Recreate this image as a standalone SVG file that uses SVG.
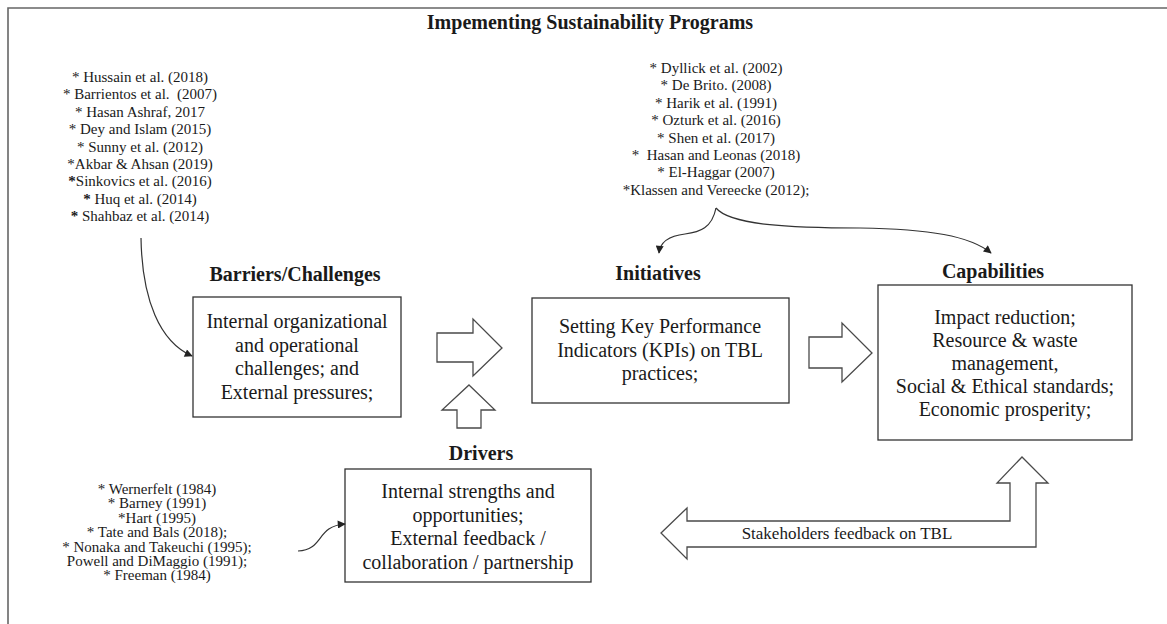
<svg xmlns="http://www.w3.org/2000/svg" width="1167" height="624" viewBox="0 0 1167 624">
<defs>
<style>
text{font-family:"Liberation Serif","Times New Roman",serif;fill:#1a1a1a;text-anchor:middle}
.title{font-size:20px;font-weight:bold}
.head{font-size:20px;font-weight:bold}
.body{font-size:20px}
.cite{font-size:15px}
.cite2{font-size:15px}
.lbl{font-size:17px}
.box{fill:#fff;stroke:#333;stroke-width:1.3}
.blk{fill:#fff;stroke:#4a4a4a;stroke-width:1.3;stroke-linejoin:miter}
.curve{fill:none;stroke:#333;stroke-width:1.2}
.frame{fill:none;stroke:#666;stroke-width:1.6}
.pre{white-space:pre}
</style>
<marker id="ah" viewBox="0 0 10 10" refX="9" refY="5" markerWidth="9" markerHeight="8" markerUnits="userSpaceOnUse" orient="auto">
<path d="M0,0 L10,5 L0,10 Z" fill="#222"/>
</marker>
</defs>
<rect width="1167" height="624" fill="#fff"/>
<path class="frame" d="M8,624 L8,8 L1167,8"/>
<text class="title" x="590" y="29">Impementing Sustainability Programs</text>

<g id="cites-barriers">
<text class="cite" x="140" y="82">* Hussain et al. (2018)</text>
<text class="cite pre" x="140" y="99.4">* Barrientos et al.  (2007)</text>
<text class="cite" x="140" y="116.8">* Hasan Ashraf, 2017</text>
<text class="cite" x="140" y="134.2">* Dey and Islam (2015)</text>
<text class="cite" x="140" y="151.6">* Sunny et al. (2012)</text>
<text class="cite" x="140" y="169">*Akbar &amp; Ahsan (2019)</text>
<text class="cite" x="140" y="186.4"><tspan font-weight="bold">*</tspan>Sinkovics et al. (2016)</text>
<text class="cite" x="140" y="203.8"><tspan font-weight="bold">*</tspan> Huq et al. (2014)</text>
<text class="cite" x="140" y="221.2"><tspan font-weight="bold">*</tspan> Shahbaz et al. (2014)</text>
</g>

<g id="cites-initiatives">
<text class="cite" x="716" y="73">* Dyllick et al. (2002)</text>
<text class="cite" x="716" y="90.4">* De Brito. (2008)</text>
<text class="cite" x="716" y="107.8">* Harik et al. (1991)</text>
<text class="cite" x="716" y="125.2">* Ozturk et al. (2016)</text>
<text class="cite" x="716" y="142.6">* Shen et al. (2017)</text>
<text class="cite pre" x="716" y="160">*  Hasan and Leonas (2018)</text>
<text class="cite" x="716" y="177.4">* El-Haggar (2007)</text>
<text class="cite" x="716" y="194.8">*Klassen and Vereecke (2012);</text>
</g>

<g id="cites-drivers">
<text class="cite2" x="157" y="494">* Wernerfelt (1984)</text>
<text class="cite2" x="157" y="508.4">* Barney (1991)</text>
<text class="cite2" x="157" y="522.8">*Hart (1995)</text>
<text class="cite2" x="157" y="537.2">* Tate and Bals (2018);</text>
<text class="cite2" x="157" y="551.6">* Nonaka and Takeuchi (1995);</text>
<text class="cite2" x="157" y="566">Powell and DiMaggio (1991);</text>
<text class="cite2" x="157" y="580.4">* Freeman (1984)</text>
</g>

<g id="barriers">
<text class="head" x="295" y="281">Barriers/Challenges</text>
<rect class="box" x="193" y="297" width="208" height="120"/>
<text class="body" x="297" y="328">Internal organizational</text>
<text class="body" x="297" y="351.5">and operational</text>
<text class="body" x="297" y="375">challenges; and</text>
<text class="body" x="297" y="398.5">External pressures;</text>
</g>

<g id="initiatives">
<text class="head" x="658" y="280">Initiatives</text>
<rect class="box" x="532" y="298" width="257" height="105"/>
<text class="body" x="660" y="333">Setting Key Performance</text>
<text class="body" x="660" y="356.5">Indicators (KPIs) on TBL</text>
<text class="body" x="660" y="380">practices;</text>
</g>

<g id="capabilities">
<text class="head" x="993" y="278">Capabilities</text>
<rect class="box" x="878" y="285" width="254" height="155"/>
<text class="body" x="1005" y="323.5">Impact reduction;</text>
<text class="body" x="1005" y="346.5">Resource &amp; waste</text>
<text class="body" x="1005" y="369.5">management,</text>
<text class="body" x="1005" y="392.5">Social &amp; Ethical standards;</text>
<text class="body" x="1005" y="415.5">Economic prosperity;</text>
</g>

<g id="drivers">
<text class="head" x="481" y="460">Drivers</text>
<rect class="box" x="345" y="469" width="246" height="113"/>
<text class="body" x="468" y="498">Internal strengths and</text>
<text class="body" x="468" y="521.5">opportunities;</text>
<text class="body" x="468" y="545">External feedback /</text>
<text class="body" x="468" y="568.5">collaboration / partnership</text>
</g>

<g id="connectors">
<path class="curve" d="M141,238 C142,300 160,342 192,356" marker-end="url(#ah)"/>
<path class="curve" d="M716,208 C712,228 700,232 685,234 C668,236 660,243 659,253" marker-end="url(#ah)"/>
<path class="curve" d="M716,208 C730,225 790,228 860,228 C930,229 970,236 991,253" marker-end="url(#ah)"/>
<path class="curve" d="M298,551 C324,550 316,526 345,524" marker-end="url(#ah)"/>
<path class="blk" d="M437,333 L473,333 L473,319 L502,348 L473,376 L473,362 L437,362 Z"/>
<path class="blk" d="M809,337 L842,337 L842,323 L872,353 L842,382 L842,368 L809,368 Z"/>
<path class="blk" d="M469,385 L495,410 L481,410 L481,428 L457,428 L457,410 L442,410 Z"/>
<path class="blk" d="M661,533 L687,508 L687,521 L1010,521 L1010,483 L997,483 L1022,457 L1048,483 L1036,483 L1036,547 L687,547 L687,559 Z"/>
<text class="lbl" x="847" y="539">Stakeholders feedback on TBL</text>
</g>
</svg>
